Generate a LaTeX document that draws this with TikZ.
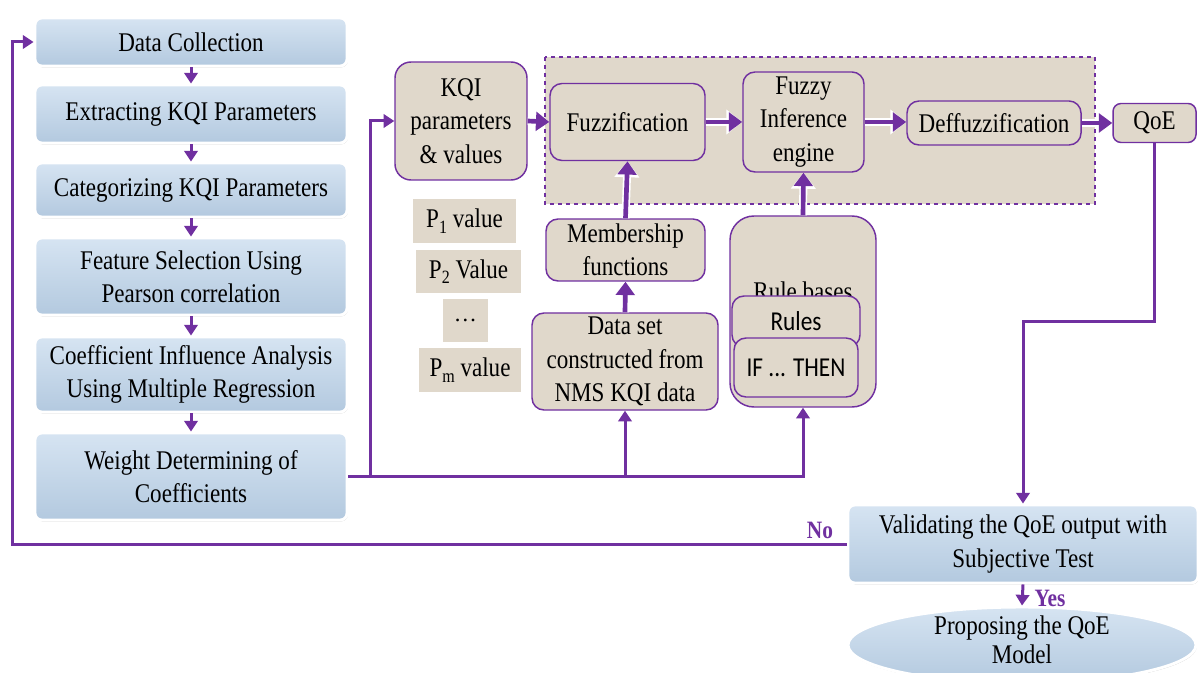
\documentclass[tikz,border=0pt]{standalone}
\usepackage{fontspec}
\setmainfont{Liberation Serif}
\newfontfamily\calib{Carlito}
\usetikzlibrary{arrows.meta,shadows,shapes.geometric,calc}
\definecolor{pur}{HTML}{7030A0}
\definecolor{tanc}{HTML}{E0D8CB}
\definecolor{bluetop}{HTML}{D6E4F2}
\definecolor{bluebot}{HTML}{B3C9DF}
\newcommand\vs[1]{\scalebox{1}[1.17]{#1}}
\newcommand\Psub[1]{P\raisebox{-0.45ex}{\fontsize{12}{12}\selectfont #1}}
\begin{document}
\begin{tikzpicture}[x=0.75pt,y=-0.75pt,
 txt/.style={font=\fontsize{17.3}{25}\selectfont, align=center, inner sep=0pt},
 bluebox/.style={txt, rounded corners=5pt, draw=white, line width=2.2pt, top color=bluetop, bottom color=bluebot,
   drop shadow={shadow xshift=0.6pt, shadow yshift=-1pt, fill=black!45, opacity=0.5}},
 tanbox/.style={txt, rounded corners=9pt, draw=pur, line width=1.1pt, fill=tanc},
 plainbox/.style={txt, fill=tanc},
 link/.style={draw=pur, line width=2.25pt},
 tri/.style={link, -{Triangle[width=10pt,length=8pt]}},
 fat/.style={draw=pur, line width=3.5pt, -{Triangle[width=14pt,length=10pt]},
   preaction={draw=white, line width=6pt, -{Triangle[width=18pt,length=12pt]}}},
 lbl/.style={font=\fontsize{16}{16}\selectfont\bfseries, text=pur, inner sep=0pt}
]
\clip (0,0) rectangle (1198,673);
\fill[white] (0,0) rectangle (1198,673);

% dashed fuzzy area
\draw[pur, dashed, line width=0.8pt, fill=tanc] (545,57) rectangle (1095,204);

% left column
\node[bluebox, minimum width=234pt, minimum height=36pt] (dc) at (191,42) {\vs{Data Collection}};
\node[bluebox, minimum width=234pt, minimum height=43.5pt] (ek) at (191,114) {\vs{Extracting KQI Parameters}};
\node[bluebox, minimum width=234pt, minimum height=40.5pt] (ck) at (191,190) {\vs{Categorizing KQI Parameters}};
\node[bluebox, minimum width=234pt, minimum height=57.75pt] (fs) at (191,276.5) {\vs{Feature Selection Using}\\\vs{Pearson correlation}};
\node[bluebox, minimum width=234pt, minimum height=56.25pt] (ci) at (191,374.5) {\vs{Coefficient Influence Analysis}\\\vs{Using Multiple Regression}};
\node[bluebox, minimum width=234pt, minimum height=65.25pt] (wd) at (191,476.5) {\vs{Weight Determining of}\\\vs{Coefficients}};

% fuzzy system
\node[tanbox, rounded corners=12pt, minimum width=99pt, minimum height=88.5pt] (kqi) at (461,121) {\vs{KQI}\\\vs{parameters}\\\vs{\& values}};
\node[tanbox, minimum width=116.25pt, minimum height=57.75pt] (fuz) at (627.5,122) {\vs{Fuzzification}};
\node[tanbox, minimum width=90.75pt, minimum height=75pt] (fie) at (803.5,122) {\vs{Fuzzy}\\\vs{Inference}\\\vs{engine}};
\node[tanbox, minimum width=130.5pt, minimum height=33pt] (def) at (994,123) {\vs{Deffuzzification}};
\node[tanbox, rounded corners=6pt, minimum width=62.25pt, minimum height=29.25pt] (qoe) at (1154.5,123) {\vs{QoE}};

% parameter values
\node[plainbox, minimum width=77.25pt, minimum height=33pt] (p1) at (464.5,221) {\vs{\Psub{1} value}};
\node[plainbox, minimum width=78.75pt, minimum height=32.25pt] (p2) at (468.5,271.5) {\vs{\Psub{2} Value}};
\node[plainbox, minimum width=33.75pt, minimum height=32.25pt] (pd) at (465.5,320.5) {\dots};
\node[plainbox, minimum width=76.5pt, minimum height=33pt] (pm) at (470,370) {\vs{\Psub{m} value}};

\node[tanbox, minimum width=119.25pt, minimum height=46.5pt] (mf) at (625.5,250) {\vs{Membership}\\\vs{functions}};
\node[tanbox, minimum width=139.5pt, minimum height=72.75pt] (ds) at (625,361.5) {\vs{Data set}\\\vs{constructed from}\\\vs{NMS KQI data}};

\node[tanbox, rounded corners=18pt, minimum width=109.5pt, minimum height=143.25pt] (rb) at (803,311.5) {};
\node[txt] (rbt) at (803,291) {\vs{Rule bases}};
\node[tanbox, font=\calib\fontsize{17.5}{20}\selectfont, minimum width=96pt, minimum height=38.25pt] (rules) at (796,321.5) {\vs{Rules}};
\node[tanbox, font=\calib\fontsize{17.5}{20}\selectfont, minimum width=93pt, minimum height=44.25pt] (ift) at (796,367.5) {\vs{IF ... THEN}};

% validation
\node[bluebox, minimum width=262.5pt, minimum height=58.5pt] (val) at (1023,544) {\vs{Validating the QoE output with}\\\vs{Subjective Test}};
\node[bluebox, ellipse, minimum width=261pt, minimum height=57pt, font=\fontsize{17.3}{22}\selectfont] (ell) at (1022,645) {};
\node[txt, font=\fontsize{17.3}{22}\selectfont] (ellt) at (1022,640) {\vs{Proposing the QoE}\\\vs{Model}};

% left column arrows
\draw[tri] (dc.south) -- (ek.north);
\draw[tri] (ek.south) -- (ck.north);
\draw[tri] (ck.south) -- (fs.north);
\draw[tri] (fs.south) -- (ci.north);
\draw[tri] (ci.south) -- (wd.north);

% feedback loop
\coordinate (fbt) at (12,42);
\draw[tri] (val.west) -| (fbt) -- (dc.west);
\node[lbl] (no) at (820,530) {\vs{No}};

% weight distribution
\coordinate (wj) at (370,121);
\draw[tri] (wd.east) -| (wj) -- (kqi.west);
\draw[tri] (wd.east) -| (ds.south);
\draw[tri] (wd.east) -| (rb.south);

% fuzzy chain
\draw[fat] (kqi.east) -- (fuz.west);
\draw[fat] (fuz.east) -- (fie.west);
\draw[fat] (fie.east) -- (fie.east -| def.west);
\draw[fat] (def.east) -- (qoe.west);
\draw[fat] (mf.north) -- (fuz.south);
\draw[fat] (ds.north) -- (mf.south);
\draw[fat] (rb.north) -- (fie.south);

% output to validation
\coordinate (qt) at (1154.5,322);
\draw[tri] (qoe.south) -- (qt) -| (val.north);
\draw[tri] (val.south) -- (ell.north);
\node[lbl] (yes) at (1050,598) {\vs{Yes}};
\end{tikzpicture}
\end{document}
